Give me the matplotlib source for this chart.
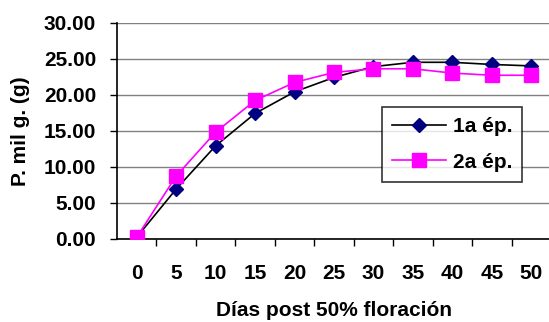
import matplotlib
matplotlib.use('Agg')
import matplotlib.pyplot as plt
import numpy as np

dias = ['0', '5', '10', '15', '20', '25', '30', '35', '40', '45', '50']
ep1 = [0.2, 6.9, 12.9, 17.4, 20.4, 22.4, 23.9, 24.5, 24.5, 24.2, 24.0]
ep2 = [0.2, 8.7, 14.8, 19.2, 21.7, 23.1, 23.6, 23.6, 23.0, 22.7, 22.7]
yticks = [0, 5, 10, 15, 20, 25, 30]

plt.rcParams['font.family'] = ['Liberation Sans', 'DejaVu Sans']
plt.rcParams['font.weight'] = 'bold'
fs = 15

fig = plt.figure(figsize=(5.49, 3.22), dpi=100)
ax = fig.add_axes([117 / 549, 83.3 / 322, 434 / 549, 216 / 322])

x = np.arange(len(dias))
ax.plot(x, ep1, color='black', lw=1.2, marker='D', ms=7,
        mfc='#000080', mec='#000080', label='1a ép.', zorder=3)
ax.plot(x, ep2, color='#ff00ff', lw=1.2, marker='s', ms=9.5,
        mfc='#ff00ff', mec='#ff00ff', label='2a ép.', zorder=4)

ax.set_xlim(-0.5, len(dias) - 0.5)
ax.set_ylim(0, 30)
ax.set_yticks(yticks)
ax.set_yticklabels(['%.2f' % v for v in yticks], fontsize=fs, fontweight='bold')
ax.set_xticks(x)
ax.set_xticklabels(dias, fontsize=fs, fontweight='bold')
ax.set_xticks(np.arange(0.5, len(dias) - 0.5), minor=True)
ax.tick_params(axis='x', which='minor', length=5, width=1, direction='out')
ax.tick_params(axis='y', length=5, width=1, direction='out', pad=10)
ax.xaxis.set_tick_params(which='major', length=0, pad=18)

ax.grid(axis='y', color='#808080', lw=1)
ax.set_axisbelow(True)
for s in ['top', 'right']:
    ax.spines[s].set_visible(False)
ax.spines['left'].set_linewidth(1.2)
ax.spines['bottom'].set_linewidth(1.2)

ax.set_ylabel('P. mil g. (g)', fontsize=fs, fontweight='bold', labelpad=10)
ax.set_xlabel('Días post 50% floración', fontsize=fs, fontweight='bold', labelpad=13)

leg = ax.legend(loc='upper left', bbox_to_anchor=((381.7 - 117) / 434, (238.7 - 106.7) / 216),
                borderaxespad=0, frameon=True, fancybox=False, edgecolor='black',
                handlelength=2.6, borderpad=0.5, labelspacing=0.8, handletextpad=0.3,
                prop={'weight': 'bold', 'size': fs})
leg.get_frame().set_linewidth(1.2)

fig.savefig('out.png', dpi=100)
